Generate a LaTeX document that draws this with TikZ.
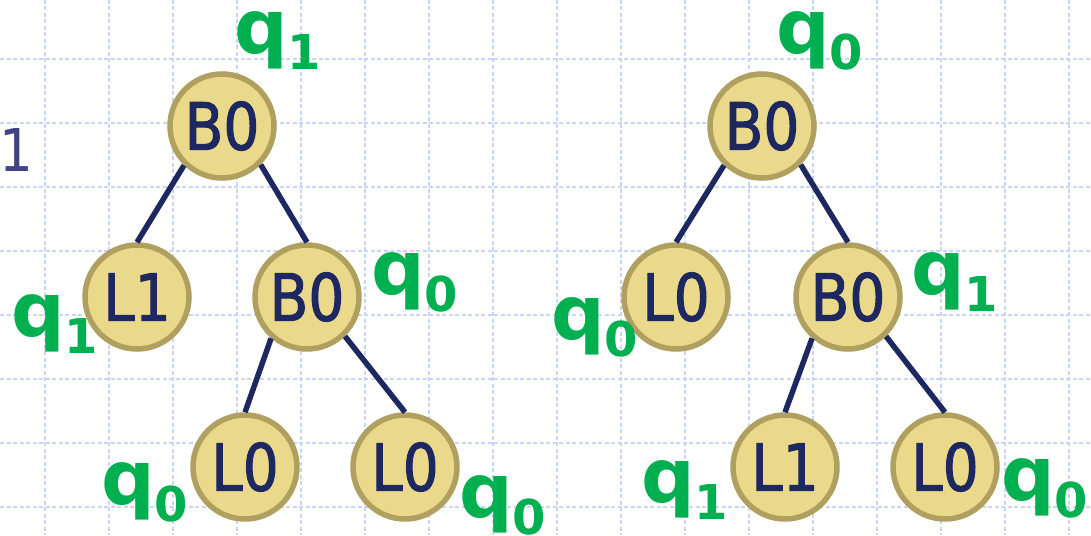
\documentclass[tikz,border=0pt]{standalone}
\usepackage{fontspec}
\newfontfamily\nodefont{DejaVu Sans}[FakeStretch=0.87,FakeBold=1.6]
\newfontfamily\numfont{DejaVu Sans}[FakeStretch=0.9]
\newfontfamily\lblfont{DejaVu Sans}
\definecolor{gridblue}{RGB}{200,213,250}
\definecolor{nodefill}{RGB}{234,217,138}
\definecolor{nodeborder}{RGB}{176,160,96}
\definecolor{navy}{RGB}{30,40,96}
\definecolor{stategreen}{RGB}{0,176,80}
\definecolor{sidenum}{RGB}{66,66,136}
% state label: bold q with a lowered index
\newcommand\qlab[1]{{\lblfont\bfseries\fontsize{75}{75}\selectfont q\raisebox{-17pt}{\fontsize{48}{48}\selectfont #1}}}
\tikzset{
  gridline/.style={draw=gridblue, line width=2.2pt, dash pattern=on 4pt off 2.5pt},
  treenode/.style={circle, draw=nodeborder, line width=5.5pt, fill=nodefill,
    minimum size=104pt, inner sep=0pt, text=navy,
    font=\nodefont\fontsize{65}{65}\selectfont},
  edge/.style={draw=navy, line width=5.5pt},
  statelbl/.style={anchor=base west, inner sep=0pt, text=stategreen},
}
\begin{document}
\begin{tikzpicture}[x=1pt,y=-1pt]
\useasboundingbox (0,0) rectangle (1091,535);
% background grid
\foreach \x in {45,109,...,1069} \draw[gridline] (\x,0) -- (\x,535);
\foreach \y in {59,123,...,507} \draw[gridline] (0,\y) -- (1091,\y);
% number at the left margin
\node[anchor=base west, inner sep=0pt, text=sidenum,
      font=\numfont\fontsize{59}{59}\selectfont] (num) at (-1,171) {1};
% left tree
\node[treenode] (lr)  at (222,126) {B0};
\node[treenode] (ll)  at (137,297) {L1};
\node[treenode] (lm)  at (307,297) {B0};
\node[treenode] (lml) at (245,467) {L0};
\node[treenode] (lmr) at (405,467) {L0};
\draw[edge] (lr.226) -- (ll.north);
\draw[edge] (lr.-45) -- (lm.north);
\draw[edge] (lm.229) -- (lml.north);
\draw[edge] (lm.-46) -- (lmr.north);
% right tree
\node[treenode] (rr)  at (762,126) {B0};
\node[treenode] (rl)  at (676,297) {L0};
\node[treenode] (rm)  at (848,297) {B0};
\node[treenode] (rml) at (785,467) {L1};
\node[treenode] (rmr) at (945,467) {L0};
\draw[edge] (rr.226) -- (rl.north);
\draw[edge] (rr.-45) -- (rm.north);
\draw[edge] (rm.229) -- (rml.north);
\draw[edge] (rm.-46) -- (rmr.north);
% state labels
\node[statelbl] (s1)  at (234,53)  {\qlab{1}};
\node[statelbl] (s2)  at (11,336)  {\qlab{1}};
\node[statelbl] (s3)  at (371,294) {\qlab{0}};
\node[statelbl] (s4)  at (101,504) {\qlab{0}};
\node[statelbl] (s5)  at (459,517) {\qlab{0}};
\node[statelbl] (s6)  at (776,53)  {\qlab{0}};
\node[statelbl] (s7)  at (551,339) {\qlab{0}};
\node[statelbl] (s8)  at (911,294) {\qlab{1}};
\node[statelbl] (s9)  at (641,502) {\qlab{1}};
\node[statelbl] (s10) at (1001,500) {\qlab{0}};
\end{tikzpicture}
\end{document}
